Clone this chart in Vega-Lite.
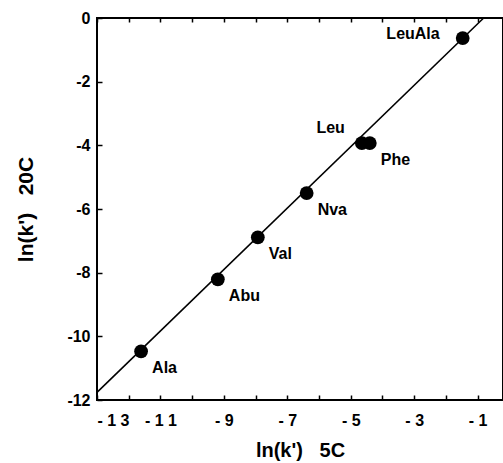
{
  "$schema": "https://vega.github.io/schema/vega-lite/v6.json",
  "width": 406,
  "height": 382,
  "autosize": "none",
  "padding": {"left": 97, "top": 18, "right": 0, "bottom": 63},
  "background": "white",
  "config": {
    "view": {"stroke": "black", "strokeWidth": 2},
    "axis": {
      "labelFont": "Liberation Sans",
      "titleFont": "Liberation Sans",
      "labelFontWeight": "bold",
      "titleFontWeight": "bold",
      "labelColor": "black",
      "titleColor": "black",
      "domain": false,
      "tickColor": "black",
      "ticks": true,
      "tickWidth": 1.5,
      "grid": false,
      "zindex": 1,
      "labelFontSize": 16,
      "titleFontSize": 20
    }
  },
  "datasets": {
    "pts": [
      {"x5": -11.61, "y20": -10.47, "name": "Ala", "side": "rb"},
      {"x5": -9.19, "y20": -8.21, "name": "Abu", "side": "rb"},
      {"x5": -7.93, "y20": -6.89, "name": "Val", "side": "rb"},
      {"x5": -6.39, "y20": -5.50, "name": "Nva", "side": "rb"},
      {"x5": -4.65, "y20": -3.93, "name": "Leu", "side": "la"},
      {"x5": -4.40, "y20": -3.93, "name": "Phe", "side": "rb"},
      {"x5": -1.47, "y20": -0.63, "name": "LeuAla", "side": "l"}
    ],
    "fit": [
      {"x5": -13, "y20": -11.76},
      {"x5": -0.81, "y20": 0}
    ]
  },
  "layer": [
    {
      "data": {"name": "fit"},
      "mark": {"type": "line", "color": "black", "strokeWidth": 1.6},
      "encoding": {
        "x": {
          "field": "x5", "type": "quantitative",
          "scale": {"domain": [-13, -0.2], "nice": false, "zero": false},
          "axis": {
            "orient": "bottom",
            "title": "ln(k')\u00a0\u00a0\u00a05C",
            "titlePadding": 12,
            "values": [-13, -12, -11, -10, -9, -8, -7, -6, -5, -4, -3, -2, -1],
            "offset": -5,
            "tickSize": 5,
            "labelPadding": 12,
            "labelExpr": "abs(datum.value)%2==1 ? '- ' + (abs(datum.value) >= 10 ? '1 ' + (abs(datum.value)-10) : abs(datum.value)) : ''"
          }
        },
        "y": {
          "field": "y20", "type": "quantitative",
          "scale": {"domain": [-12, 0], "nice": false, "zero": false},
          "axis": {
            "title": "ln(k')\u00a0\u00a0\u00a020C",
            "titleFontSize": 21,
            "titlePadding": 30,
            "values": [-12, -11, -10, -9, -8, -7, -6, -5, -4, -3, -2, -1, 0],
            "offset": -5,
            "tickSize": 5,
            "labelPadding": 7,
            "labelExpr": "abs(datum.value)%2==0 ? (datum.value == 0 ? '0' : '-' + abs(datum.value)) : ''"
          }
        }
      }
    },
    {
      "data": {"name": "pts"},
      "mark": {"type": "circle", "color": "black", "opacity": 1, "size": 190},
      "encoding": {
        "x": {"field": "x5", "type": "quantitative",
          "axis": {"orient": "top", "title": null, "labels": false,
            "values": [-13, -12, -11, -10, -9, -8, -7, -6, -5, -4, -3, -2, -1], "offset": -4, "tickSize": 4}},
        "y": {"field": "y20", "type": "quantitative"}
      }
    },
    {
      "data": {"name": "pts"},
      "transform": [{"filter": "datum.side == 'rb'"}],
      "mark": {"type": "text", "align": "left", "baseline": "middle", "dx": 11, "dy": 17, "font": "Liberation Sans", "fontWeight": "bold", "fontSize": 16, "color": "black"},
      "encoding": {
        "x": {"field": "x5", "type": "quantitative", "axis": null},
        "y": {"field": "y20", "type": "quantitative"},
        "text": {"field": "name"}
      }
    },
    {
      "data": {"name": "pts"},
      "transform": [{"filter": "datum.side == 'la'"}],
      "mark": {"type": "text", "align": "right", "baseline": "middle", "dx": -17, "dy": -15, "font": "Liberation Sans", "fontWeight": "bold", "fontSize": 16, "color": "black"},
      "encoding": {
        "x": {"field": "x5", "type": "quantitative", "axis": null},
        "y": {"field": "y20", "type": "quantitative"},
        "text": {"field": "name"}
      }
    },
    {
      "data": {"name": "pts"},
      "transform": [{"filter": "datum.side == 'l'"}],
      "mark": {"type": "text", "align": "right", "baseline": "middle", "dx": -23, "dy": -4, "font": "Liberation Sans", "fontWeight": "bold", "fontSize": 16, "color": "black"},
      "encoding": {
        "x": {"field": "x5", "type": "quantitative", "axis": null},
        "y": {"field": "y20", "type": "quantitative"},
        "text": {"field": "name"}
      }
    }
  ],
  "resolve": {"axis": {"x": "independent"}}
}
